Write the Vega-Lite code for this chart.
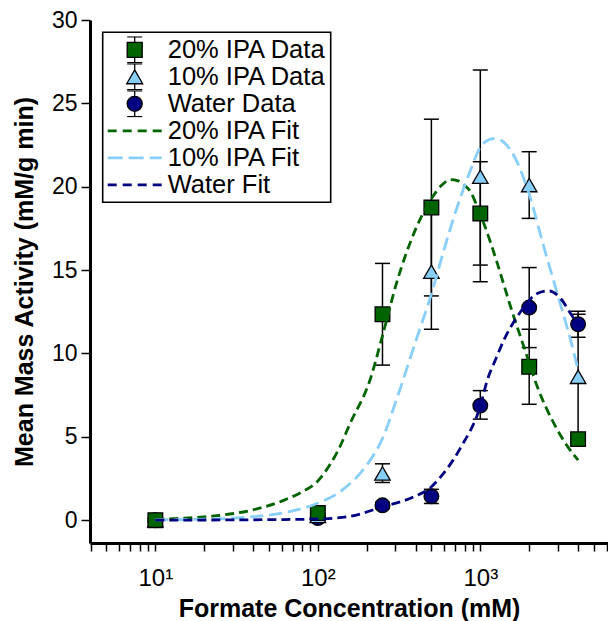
{
  "$schema": "https://vega.github.io/schema/vega-lite/v6.json",
  "width": 518,
  "height": 523,
  "autosize": {"type": "none"},
  "padding": {"left": 90, "top": 20, "right": 0, "bottom": 78},
  "background": "white",
  "config": {
    "view": {"stroke": null},
    "axis": {
      "grid": false,
      "domainColor": "black",
      "domainWidth": 3,
      "tickColor": "black",
      "tickWidth": 1.5,
      "labelColor": "black",
      "labelFont": "Liberation Sans",
      "titleFont": "Liberation Sans",
      "titleColor": "black",
      "titleFontWeight": "bold",
      "titleFontSize": 25
    },
    "legend": {
      "title": null,
      "orient": "none",
      "legendX": 12.7,
      "legendY": 12.3,
      "padding": 4,
      "strokeColor": "black",
      "strokeWidth": 1.6,
      "clipHeight": 27,
      "rowPadding": 0,
      "symbolSize": 2916,
      "symbolStrokeWidth": 1.3,
      "symbolOpacity": 1,
      "symbolOffset": 0,
      "labelOffset": 5,
      "labelFontSize": 25.5,
      "labelFont": "Liberation Sans",
      "labelColor": "black",
      "labelLimit": 400
    }
  },
  "datasets": {
    "pts": [
      {"series": "20% IPA Data", "conc": 10, "act": 0.0, "lo": -0.15, "hi": 0.15},
      {"series": "20% IPA Data", "conc": 100, "act": 0.43, "lo": 0.25, "hi": 0.61},
      {"series": "20% IPA Data", "conc": 250, "act": 12.35, "lo": 9.3, "hi": 15.4},
      {"series": "20% IPA Data", "conc": 500, "act": 18.75, "lo": 13.45, "hi": 24.05},
      {"series": "20% IPA Data", "conc": 1000, "act": 18.4, "lo": 15.3, "hi": 21.5},
      {"series": "20% IPA Data", "conc": 2000, "act": 9.2, "lo": 6.95, "hi": 11.45},
      {"series": "20% IPA Data", "conc": 4000, "act": 4.86, "lo": 4.6, "hi": 5.1},
      {"series": "10% IPA Data", "conc": 10, "act": 0.0, "lo": -0.1, "hi": 0.1},
      {"series": "10% IPA Data", "conc": 100, "act": 0.25, "lo": 0.1, "hi": 0.4},
      {"series": "10% IPA Data", "conc": 250, "act": 2.8, "lo": 2.26, "hi": 3.38},
      {"series": "10% IPA Data", "conc": 500, "act": 14.9, "lo": 11.45, "hi": 18.4},
      {"series": "10% IPA Data", "conc": 1000, "act": 20.6, "lo": 14.3, "hi": 27.0},
      {"series": "10% IPA Data", "conc": 2000, "act": 20.1, "lo": 18.1, "hi": 22.1},
      {"series": "10% IPA Data", "conc": 4000, "act": 8.6, "lo": 4.85, "hi": 12.35},
      {"series": "Water Data", "conc": 10, "act": 0.0, "lo": -0.1, "hi": 0.1},
      {"series": "Water Data", "conc": 100, "act": 0.13, "lo": 0.0, "hi": 0.26},
      {"series": "Water Data", "conc": 250, "act": 0.89, "lo": 0.7, "hi": 1.08},
      {"series": "Water Data", "conc": 500, "act": 1.43, "lo": 1.0, "hi": 1.85},
      {"series": "Water Data", "conc": 1000, "act": 6.87, "lo": 6.06, "hi": 7.77},
      {"series": "Water Data", "conc": 2000, "act": 12.75, "lo": 10.35, "hi": 15.15},
      {"series": "Water Data", "conc": 4000, "act": 11.75, "lo": 10.97, "hi": 12.53}
    ],
    "fits": [
      {"series": "20% IPA Fit", "conc": 10, "act": 0.05},
      {"series": "20% IPA Fit", "conc": 15, "act": 0.12},
      {"series": "20% IPA Fit", "conc": 24, "act": 0.27},
      {"series": "20% IPA Fit", "conc": 38, "act": 0.57},
      {"series": "20% IPA Fit", "conc": 62, "act": 1.2},
      {"series": "20% IPA Fit", "conc": 80, "act": 1.7},
      {"series": "20% IPA Fit", "conc": 99, "act": 2.3},
      {"series": "20% IPA Fit", "conc": 120, "act": 3.4},
      {"series": "20% IPA Fit", "conc": 132, "act": 4.1},
      {"series": "20% IPA Fit", "conc": 158, "act": 5.8},
      {"series": "20% IPA Fit", "conc": 211, "act": 8.5},
      {"series": "20% IPA Fit", "conc": 249, "act": 11.0},
      {"series": "20% IPA Fit", "conc": 309, "act": 14.4},
      {"series": "20% IPA Fit", "conc": 390, "act": 17.2},
      {"series": "20% IPA Fit", "conc": 494, "act": 19.2},
      {"series": "20% IPA Fit", "conc": 580, "act": 20.1},
      {"series": "20% IPA Fit", "conc": 656, "act": 20.43},
      {"series": "20% IPA Fit", "conc": 730, "act": 20.35},
      {"series": "20% IPA Fit", "conc": 794, "act": 20.1},
      {"series": "20% IPA Fit", "conc": 871, "act": 19.7},
      {"series": "20% IPA Fit", "conc": 958, "act": 18.8},
      {"series": "20% IPA Fit", "conc": 1052, "act": 17.8},
      {"series": "20% IPA Fit", "conc": 1273, "act": 15.4},
      {"series": "20% IPA Fit", "conc": 1536, "act": 12.8},
      {"series": "20% IPA Fit", "conc": 1854, "act": 10.4},
      {"series": "20% IPA Fit", "conc": 2244, "act": 8.0},
      {"series": "20% IPA Fit", "conc": 2838, "act": 5.8},
      {"series": "20% IPA Fit", "conc": 3400, "act": 4.5},
      {"series": "20% IPA Fit", "conc": 4000, "act": 3.6},
      {"series": "10% IPA Fit", "conc": 10, "act": 0.02},
      {"series": "10% IPA Fit", "conc": 24, "act": 0.08},
      {"series": "10% IPA Fit", "conc": 38, "act": 0.19},
      {"series": "10% IPA Fit", "conc": 62, "act": 0.45},
      {"series": "10% IPA Fit", "conc": 99, "act": 1.0},
      {"series": "10% IPA Fit", "conc": 132, "act": 1.6},
      {"series": "10% IPA Fit", "conc": 158, "act": 2.2},
      {"series": "10% IPA Fit", "conc": 200, "act": 3.3},
      {"series": "10% IPA Fit", "conc": 250, "act": 4.9},
      {"series": "10% IPA Fit", "conc": 309, "act": 7.4},
      {"series": "10% IPA Fit", "conc": 409, "act": 11.0},
      {"series": "10% IPA Fit", "conc": 494, "act": 13.4},
      {"series": "10% IPA Fit", "conc": 597, "act": 16.2},
      {"series": "10% IPA Fit", "conc": 757, "act": 19.4},
      {"series": "10% IPA Fit", "conc": 871, "act": 21.0},
      {"series": "10% IPA Fit", "conc": 1004, "act": 22.4},
      {"series": "10% IPA Fit", "conc": 1120, "act": 22.8},
      {"series": "10% IPA Fit", "conc": 1242, "act": 22.9},
      {"series": "10% IPA Fit", "conc": 1380, "act": 22.7},
      {"series": "10% IPA Fit", "conc": 1536, "act": 22.2},
      {"series": "10% IPA Fit", "conc": 1993, "act": 19.6},
      {"series": "10% IPA Fit", "conc": 2459, "act": 16.4},
      {"series": "10% IPA Fit", "conc": 2977, "act": 13.6},
      {"series": "10% IPA Fit", "conc": 3596, "act": 10.8},
      {"series": "10% IPA Fit", "conc": 4000, "act": 9.0},
      {"series": "Water Fit", "conc": 10, "act": 0.0},
      {"series": "Water Fit", "conc": 50, "act": 0.03},
      {"series": "Water Fit", "conc": 99, "act": 0.07},
      {"series": "Water Fit", "conc": 158, "act": 0.23},
      {"series": "Water Fit", "conc": 250, "act": 0.8},
      {"series": "Water Fit", "conc": 390, "act": 1.4},
      {"series": "Water Fit", "conc": 500, "act": 2.0},
      {"series": "Water Fit", "conc": 570, "act": 2.6},
      {"series": "Water Fit", "conc": 680, "act": 3.6},
      {"series": "Water Fit", "conc": 794, "act": 4.7},
      {"series": "Water Fit", "conc": 871, "act": 5.4},
      {"series": "Water Fit", "conc": 958, "act": 6.3},
      {"series": "Water Fit", "conc": 1000, "act": 6.85},
      {"series": "Water Fit", "conc": 1104, "act": 8.4},
      {"series": "Water Fit", "conc": 1250, "act": 9.7},
      {"series": "Water Fit", "conc": 1397, "act": 10.8},
      {"series": "Water Fit", "conc": 1770, "act": 12.5},
      {"series": "Water Fit", "conc": 2244, "act": 13.6},
      {"series": "Water Fit", "conc": 2641, "act": 13.76},
      {"series": "Water Fit", "conc": 3119, "act": 13.3},
      {"series": "Water Fit", "conc": 3596, "act": 12.4},
      {"series": "Water Fit", "conc": 4000, "act": 11.7}
    ]
  },
  "layer": [
    {
      "data": {"name": "pts"},
      "mark": {"type": "rule", "color": "black", "strokeWidth": 1.5, "opacity": 1},
      "encoding": {
        "x": {"field": "conc", "type": "quantitative", "scale": {"type": "log", "domain": [3.96, 6110], "nice": false},
          "axis": {"orient": "bottom", "title": "Formate Concentration (mM)", "values": [4, 5, 6, 7, 8, 9, 10, 20, 30, 40, 50, 60, 70, 80, 90, 100, 200, 300, 400, 500, 600, 700, 800, 900, 1000, 2000, 3000, 4000, 5000, 6000], "labelExpr": "datum.value == 10 ? '10¹' : datum.value == 100 ? '10²' : datum.value == 1000 ? '10³' : ''", "labelFontSize": 24, "labelBaseline": "alphabetic", "labelPadding": 34, "labelOverlap": false, "labelFlush": false, "tickSize": 8, "titleY": 73, "titleBaseline": "alphabetic", "encode": {"ticks": {"y2": {"value": {"expr": "indexof([10,100,1000], datum.value) >= 0 ? 8 : 4"}}}}}},
        "y": {"field": "lo", "type": "quantitative", "scale": {"domain": [-1.37, 30], "nice": false, "zero": false},
          "axis": {"title": "Mean Mass Activity (mM/g min)", "values": [0, 5, 10, 15, 20, 25, 30], "labelFontSize": 23, "tickSize": 9, "labelPadding": 4, "titleX": -66, "titleY": 261.5, "titleBaseline": "middle", "titleAlign": "center", "titleAngle": -90}},
        "y2": {"field": "hi"}
      }
    },
    {
      "data": {"name": "pts"},
      "mark": {"type": "tick", "orient": "horizontal", "size": 15, "thickness": 1.5, "color": "black", "opacity": 1},
      "encoding": {
        "x": {"field": "conc", "type": "quantitative", "scale": {"type": "log", "domain": [3.96, 6110], "nice": false},
          "axis": {"orient": "bottom", "title": "Formate Concentration (mM)", "values": [4, 5, 6, 7, 8, 9, 10, 20, 30, 40, 50, 60, 70, 80, 90, 100, 200, 300, 400, 500, 600, 700, 800, 900, 1000, 2000, 3000, 4000, 5000, 6000], "labelExpr": "datum.value == 10 ? '10¹' : datum.value == 100 ? '10²' : datum.value == 1000 ? '10³' : ''", "labelFontSize": 24, "labelBaseline": "alphabetic", "labelPadding": 34, "labelOverlap": false, "labelFlush": false, "tickSize": 8, "titleY": 73, "titleBaseline": "alphabetic", "encode": {"ticks": {"y2": {"value": {"expr": "indexof([10,100,1000], datum.value) >= 0 ? 8 : 4"}}}}}},
        "y": {"field": "lo", "type": "quantitative", "scale": {"domain": [-1.37, 30], "nice": false, "zero": false},
          "axis": {"title": "Mean Mass Activity (mM/g min)", "values": [0, 5, 10, 15, 20, 25, 30], "labelFontSize": 23, "tickSize": 9, "labelPadding": 4, "titleX": -66, "titleY": 261.5, "titleBaseline": "middle", "titleAlign": "center", "titleAngle": -90}}
      }
    },
    {
      "data": {"name": "pts"},
      "mark": {"type": "tick", "orient": "horizontal", "size": 15, "thickness": 1.5, "color": "black", "opacity": 1},
      "encoding": {
        "x": {"field": "conc", "type": "quantitative", "scale": {"type": "log", "domain": [3.96, 6110], "nice": false},
          "axis": {"orient": "bottom", "title": "Formate Concentration (mM)", "values": [4, 5, 6, 7, 8, 9, 10, 20, 30, 40, 50, 60, 70, 80, 90, 100, 200, 300, 400, 500, 600, 700, 800, 900, 1000, 2000, 3000, 4000, 5000, 6000], "labelExpr": "datum.value == 10 ? '10¹' : datum.value == 100 ? '10²' : datum.value == 1000 ? '10³' : ''", "labelFontSize": 24, "labelBaseline": "alphabetic", "labelPadding": 34, "labelOverlap": false, "labelFlush": false, "tickSize": 8, "titleY": 73, "titleBaseline": "alphabetic", "encode": {"ticks": {"y2": {"value": {"expr": "indexof([10,100,1000], datum.value) >= 0 ? 8 : 4"}}}}}},
        "y": {"field": "hi", "type": "quantitative", "scale": {"domain": [-1.37, 30], "nice": false, "zero": false},
          "axis": {"title": "Mean Mass Activity (mM/g min)", "values": [0, 5, 10, 15, 20, 25, 30], "labelFontSize": 23, "tickSize": 9, "labelPadding": 4, "titleX": -66, "titleY": 261.5, "titleBaseline": "middle", "titleAlign": "center", "titleAngle": -90}}
      }
    },
    {
      "data": {"name": "pts"},
      "transform": [{"filter": "datum.series === 'Water Data'"}],
      "mark": {"type": "point", "shape": "circle", "size": 215, "filled": true, "fill": "#000080", "stroke": "black", "strokeWidth": 1.3, "opacity": 1},
      "encoding": {
        "x": {"field": "conc", "type": "quantitative", "scale": {"type": "log", "domain": [3.96, 6110], "nice": false},
          "axis": {"orient": "bottom", "title": "Formate Concentration (mM)", "values": [4, 5, 6, 7, 8, 9, 10, 20, 30, 40, 50, 60, 70, 80, 90, 100, 200, 300, 400, 500, 600, 700, 800, 900, 1000, 2000, 3000, 4000, 5000, 6000], "labelExpr": "datum.value == 10 ? '10¹' : datum.value == 100 ? '10²' : datum.value == 1000 ? '10³' : ''", "labelFontSize": 24, "labelBaseline": "alphabetic", "labelPadding": 34, "labelOverlap": false, "labelFlush": false, "tickSize": 8, "titleY": 73, "titleBaseline": "alphabetic", "encode": {"ticks": {"y2": {"value": {"expr": "indexof([10,100,1000], datum.value) >= 0 ? 8 : 4"}}}}}},
        "y": {"field": "act", "type": "quantitative", "scale": {"domain": [-1.37, 30], "nice": false, "zero": false},
          "axis": {"title": "Mean Mass Activity (mM/g min)", "values": [0, 5, 10, 15, 20, 25, 30], "labelFontSize": 23, "tickSize": 9, "labelPadding": 4, "titleX": -66, "titleY": 261.5, "titleBaseline": "middle", "titleAlign": "center", "titleAngle": -90}}
      }
    },
    {
      "data": {"name": "pts"},
      "transform": [{"filter": "datum.series === '10% IPA Data'"}],
      "mark": {"type": "point", "shape": "triangle-up", "size": 240, "filled": true, "fill": "#87cefa", "stroke": "black", "strokeWidth": 1.3, "opacity": 1},
      "encoding": {
        "x": {"field": "conc", "type": "quantitative", "scale": {"type": "log", "domain": [3.96, 6110], "nice": false},
          "axis": {"orient": "bottom", "title": "Formate Concentration (mM)", "values": [4, 5, 6, 7, 8, 9, 10, 20, 30, 40, 50, 60, 70, 80, 90, 100, 200, 300, 400, 500, 600, 700, 800, 900, 1000, 2000, 3000, 4000, 5000, 6000], "labelExpr": "datum.value == 10 ? '10¹' : datum.value == 100 ? '10²' : datum.value == 1000 ? '10³' : ''", "labelFontSize": 24, "labelBaseline": "alphabetic", "labelPadding": 34, "labelOverlap": false, "labelFlush": false, "tickSize": 8, "titleY": 73, "titleBaseline": "alphabetic", "encode": {"ticks": {"y2": {"value": {"expr": "indexof([10,100,1000], datum.value) >= 0 ? 8 : 4"}}}}}},
        "y": {"field": "act", "type": "quantitative", "scale": {"domain": [-1.37, 30], "nice": false, "zero": false},
          "axis": {"title": "Mean Mass Activity (mM/g min)", "values": [0, 5, 10, 15, 20, 25, 30], "labelFontSize": 23, "tickSize": 9, "labelPadding": 4, "titleX": -66, "titleY": 261.5, "titleBaseline": "middle", "titleAlign": "center", "titleAngle": -90}}
      }
    },
    {
      "data": {"name": "pts"},
      "transform": [{"filter": "datum.series === '20% IPA Data'"}],
      "mark": {"type": "point", "shape": "square", "size": 215, "filled": true, "fill": "#006400", "stroke": "black", "strokeWidth": 1.3, "opacity": 1},
      "encoding": {
        "x": {"field": "conc", "type": "quantitative", "scale": {"type": "log", "domain": [3.96, 6110], "nice": false},
          "axis": {"orient": "bottom", "title": "Formate Concentration (mM)", "values": [4, 5, 6, 7, 8, 9, 10, 20, 30, 40, 50, 60, 70, 80, 90, 100, 200, 300, 400, 500, 600, 700, 800, 900, 1000, 2000, 3000, 4000, 5000, 6000], "labelExpr": "datum.value == 10 ? '10¹' : datum.value == 100 ? '10²' : datum.value == 1000 ? '10³' : ''", "labelFontSize": 24, "labelBaseline": "alphabetic", "labelPadding": 34, "labelOverlap": false, "labelFlush": false, "tickSize": 8, "titleY": 73, "titleBaseline": "alphabetic", "encode": {"ticks": {"y2": {"value": {"expr": "indexof([10,100,1000], datum.value) >= 0 ? 8 : 4"}}}}}},
        "y": {"field": "act", "type": "quantitative", "scale": {"domain": [-1.37, 30], "nice": false, "zero": false},
          "axis": {"title": "Mean Mass Activity (mM/g min)", "values": [0, 5, 10, 15, 20, 25, 30], "labelFontSize": 23, "tickSize": 9, "labelPadding": 4, "titleX": -66, "titleY": 261.5, "titleBaseline": "middle", "titleAlign": "center", "titleAngle": -90}}
      }
    },
    {
      "data": {"name": "fits"},
      "transform": [{"filter": "datum.series === '20% IPA Fit'"}],
      "mark": {"type": "line", "strokeWidth": 2.8, "interpolate": "monotone", "opacity": 1, "stroke": "#006400", "strokeDash": [9, 5]},
      "encoding": {
        "x": {"field": "conc", "type": "quantitative", "scale": {"type": "log", "domain": [3.96, 6110], "nice": false},
          "axis": {"orient": "bottom", "title": "Formate Concentration (mM)", "values": [4, 5, 6, 7, 8, 9, 10, 20, 30, 40, 50, 60, 70, 80, 90, 100, 200, 300, 400, 500, 600, 700, 800, 900, 1000, 2000, 3000, 4000, 5000, 6000], "labelExpr": "datum.value == 10 ? '10¹' : datum.value == 100 ? '10²' : datum.value == 1000 ? '10³' : ''", "labelFontSize": 24, "labelBaseline": "alphabetic", "labelPadding": 34, "labelOverlap": false, "labelFlush": false, "tickSize": 8, "titleY": 73, "titleBaseline": "alphabetic", "encode": {"ticks": {"y2": {"value": {"expr": "indexof([10,100,1000], datum.value) >= 0 ? 8 : 4"}}}}}},
        "y": {"field": "act", "type": "quantitative", "scale": {"domain": [-1.37, 30], "nice": false, "zero": false},
          "axis": {"title": "Mean Mass Activity (mM/g min)", "values": [0, 5, 10, 15, 20, 25, 30], "labelFontSize": 23, "tickSize": 9, "labelPadding": 4, "titleX": -66, "titleY": 261.5, "titleBaseline": "middle", "titleAlign": "center", "titleAngle": -90}}
      }
    },
    {
      "data": {"name": "fits"},
      "transform": [{"filter": "datum.series === '10% IPA Fit'"}],
      "mark": {"type": "line", "strokeWidth": 2.8, "interpolate": "monotone", "opacity": 1, "stroke": "#87cefa", "strokeDash": [13, 6]},
      "encoding": {
        "x": {"field": "conc", "type": "quantitative", "scale": {"type": "log", "domain": [3.96, 6110], "nice": false},
          "axis": {"orient": "bottom", "title": "Formate Concentration (mM)", "values": [4, 5, 6, 7, 8, 9, 10, 20, 30, 40, 50, 60, 70, 80, 90, 100, 200, 300, 400, 500, 600, 700, 800, 900, 1000, 2000, 3000, 4000, 5000, 6000], "labelExpr": "datum.value == 10 ? '10¹' : datum.value == 100 ? '10²' : datum.value == 1000 ? '10³' : ''", "labelFontSize": 24, "labelBaseline": "alphabetic", "labelPadding": 34, "labelOverlap": false, "labelFlush": false, "tickSize": 8, "titleY": 73, "titleBaseline": "alphabetic", "encode": {"ticks": {"y2": {"value": {"expr": "indexof([10,100,1000], datum.value) >= 0 ? 8 : 4"}}}}}},
        "y": {"field": "act", "type": "quantitative", "scale": {"domain": [-1.37, 30], "nice": false, "zero": false},
          "axis": {"title": "Mean Mass Activity (mM/g min)", "values": [0, 5, 10, 15, 20, 25, 30], "labelFontSize": 23, "tickSize": 9, "labelPadding": 4, "titleX": -66, "titleY": 261.5, "titleBaseline": "middle", "titleAlign": "center", "titleAngle": -90}}
      }
    },
    {
      "data": {"name": "fits"},
      "transform": [{"filter": "datum.series === 'Water Fit'"}],
      "mark": {"type": "line", "strokeWidth": 2.8, "interpolate": "monotone", "opacity": 1, "stroke": "#000080", "strokeDash": [9, 5]},
      "encoding": {
        "x": {"field": "conc", "type": "quantitative", "scale": {"type": "log", "domain": [3.96, 6110], "nice": false},
          "axis": {"orient": "bottom", "title": "Formate Concentration (mM)", "values": [4, 5, 6, 7, 8, 9, 10, 20, 30, 40, 50, 60, 70, 80, 90, 100, 200, 300, 400, 500, 600, 700, 800, 900, 1000, 2000, 3000, 4000, 5000, 6000], "labelExpr": "datum.value == 10 ? '10¹' : datum.value == 100 ? '10²' : datum.value == 1000 ? '10³' : ''", "labelFontSize": 24, "labelBaseline": "alphabetic", "labelPadding": 34, "labelOverlap": false, "labelFlush": false, "tickSize": 8, "titleY": 73, "titleBaseline": "alphabetic", "encode": {"ticks": {"y2": {"value": {"expr": "indexof([10,100,1000], datum.value) >= 0 ? 8 : 4"}}}}}},
        "y": {"field": "act", "type": "quantitative", "scale": {"domain": [-1.37, 30], "nice": false, "zero": false},
          "axis": {"title": "Mean Mass Activity (mM/g min)", "values": [0, 5, 10, 15, 20, 25, 30], "labelFontSize": 23, "tickSize": 9, "labelPadding": 4, "titleX": -66, "titleY": 261.5, "titleBaseline": "middle", "titleAlign": "center", "titleAngle": -90}}
      }
    },
    {
      "data": {"name": "pts"},
      "mark": {"type": "point", "filled": true, "strokeWidth": 1.3, "opacity": 0},
      "encoding": {
        "x": {"field": "conc", "type": "quantitative", "scale": {"type": "log", "domain": [3.96, 6110], "nice": false},
          "axis": {"orient": "bottom", "title": "Formate Concentration (mM)", "values": [4, 5, 6, 7, 8, 9, 10, 20, 30, 40, 50, 60, 70, 80, 90, 100, 200, 300, 400, 500, 600, 700, 800, 900, 1000, 2000, 3000, 4000, 5000, 6000], "labelExpr": "datum.value == 10 ? '10¹' : datum.value == 100 ? '10²' : datum.value == 1000 ? '10³' : ''", "labelFontSize": 24, "labelBaseline": "alphabetic", "labelPadding": 34, "labelOverlap": false, "labelFlush": false, "tickSize": 8, "titleY": 73, "titleBaseline": "alphabetic", "encode": {"ticks": {"y2": {"value": {"expr": "indexof([10,100,1000], datum.value) >= 0 ? 8 : 4"}}}}}},
        "y": {"field": "act", "type": "quantitative", "scale": {"domain": [-1.37, 30], "nice": false, "zero": false},
          "axis": {"title": "Mean Mass Activity (mM/g min)", "values": [0, 5, 10, 15, 20, 25, 30], "labelFontSize": 23, "tickSize": 9, "labelPadding": 4, "titleX": -66, "titleY": 261.5, "titleBaseline": "middle", "titleAlign": "center", "titleAngle": -90}},
        "fill": {"field": "series", "type": "nominal",
          "scale": {"domain": ["20% IPA Data", "10% IPA Data", "Water Data", "20% IPA Fit", "10% IPA Fit", "Water Fit"], "range": ["#006400", "#87cefa", "#000080", "#006400", "#87cefa", "#000080"]}},
        "stroke": {"field": "series", "type": "nominal",
          "scale": {"domain": ["20% IPA Data", "10% IPA Data", "Water Data", "20% IPA Fit", "10% IPA Fit", "Water Fit"], "range": ["black", "black", "black", "#006400", "#87cefa", "#000080"]}},
        "shape": {"field": "series", "type": "nominal",
          "scale": {"domain": ["20% IPA Data", "10% IPA Data", "Water Data", "20% IPA Fit", "10% IPA Fit", "Water Fit"],
            "range": [
              "M-0.278,-0.278H0.278V0.278H-0.278Z M0,-0.278V-0.48 M-0.278,-0.48H0.278 M0,0.278V0.48 M-0.278,0.48H0.278",
              "M0,-0.257L0.296,0.257L-0.296,0.257Z M0,-0.257V-0.48 M-0.278,-0.48H0.278 M0,0.257V0.48 M-0.278,0.48H0.278",
              "M-0.278,0A0.278,0.278 0 1,1 0.278,0A0.278,0.278 0 1,1 -0.278,0Z M0,-0.278V-0.48 M-0.278,-0.48H0.278 M0,0.278V0.48 M-0.278,0.48H0.278",
              "M-0.976,-0.028H-0.691V0.028H-0.976Z M-0.42,-0.028H-0.135V0.028H-0.42Z M0.135,-0.028H0.42V0.028H0.135Z M0.691,-0.028H0.976V0.028H0.691Z",
              "M-0.976,-0.028H-0.469V0.028H-0.976Z M-0.198,-0.028H0.309V0.028H-0.198Z M0.58,-0.028H0.976V0.028H0.58Z",
              "M-0.976,-0.028H-0.691V0.028H-0.976Z M-0.42,-0.028H-0.135V0.028H-0.42Z M0.135,-0.028H0.42V0.028H0.135Z M0.691,-0.028H0.976V0.028H0.691Z"
            ]}}
      }
    },
    {
      "mark": {"type": "rule", "color": "black", "strokeWidth": 3},
      "encoding": {
        "y": {"datum": 30, "type": "quantitative", "scale": {"domain": [-1.37, 30], "nice": false, "zero": false},
          "axis": {"title": "Mean Mass Activity (mM/g min)", "values": [0, 5, 10, 15, 20, 25, 30], "labelFontSize": 23, "tickSize": 9, "labelPadding": 4, "titleX": -66, "titleY": 261.5, "titleBaseline": "middle", "titleAlign": "center", "titleAngle": -90}}
      }
    }
  ]
}
